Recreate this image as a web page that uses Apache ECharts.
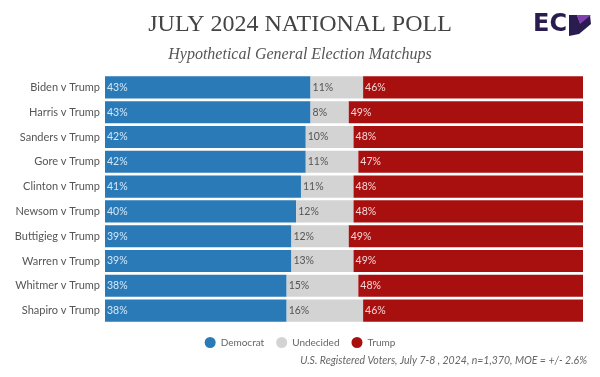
<!DOCTYPE html>
<html>
<head>
<meta charset="utf-8">
<script src="https://cdn.jsdelivr.net/npm/echarts@6/dist/echarts.min.js"></script>
<style>
  html, body { margin: 0; padding: 0; background: #fff; }
  #main { width: 600px; height: 377px; }
</style>
</head>
<body>
<div id="main"></div>
<script>
// matchups, top to bottom
var matchups = ['Biden v Trump', 'Harris v Trump', 'Sanders v Trump', 'Gore v Trump', 'Clinton v Trump',
    'Newsom v Trump', 'Buttigieg v Trump', 'Warren v Trump', 'Whitmer v Trump', 'Shapiro v Trump'];
var democrat = [43, 43, 42, 42, 41, 40, 39, 39, 38, 38];
var undecided = [11, 8, 10, 11, 11, 12, 12, 13, 15, 16];
var trump = [46, 49, 48, 47, 48, 48, 49, 49, 48, 46];

var chart = echarts.init(document.getElementById('main'));

function pct(p) { return p.value + '%'; }

option = {
    backgroundColor: '#fff',
    animation: false,
    title: [
        {
            text: 'JULY 2024 NATIONAL POLL',
            left: 'center',
            top: 8,
            textStyle: { fontFamily: 'Liberation Serif', fontWeight: 'normal', fontSize: 24, color: '#444' }
        },
        {
            text: 'Hypothetical General Election Matchups',
            left: 'center',
            top: 42,
            textStyle: { fontFamily: 'Liberation Serif', fontStyle: 'italic', fontWeight: 'normal', fontSize: 16, color: '#555' }
        },
        {
            text: 'U.S. Registered Voters, July 7-8 , 2024, n=1,370, MOE = +/- 2.6%',
            right: 8,
            top: 350,
            textStyle: { fontFamily: 'Lato', fontStyle: 'italic', fontWeight: 'normal', fontSize: 10.5, color: '#666' }
        }
    ],
    graphic: [
        {
            type: 'text',
            left: 533,
            top: 13,
            style: { text: 'EC', font: 'bold 24px "DejaVu Sans"', fill: '#2b1c4f' }
        },
        {
            // P stem and bowl
            type: 'polygon',
            shape: { points: [[569, 15], [577, 15], [580, 23], [590, 15], [591, 24], [579, 34], [569, 36]] },
            style: { fill: '#2b1c4f' }
        },
        {
            type: 'polygon',
            shape: { points: [[577, 15], [591, 15], [580, 24]] },
            style: { fill: '#8040b0' }
        }
    ],
    legend: {
        data: ['Democrat', 'Undecided', 'Trump'],
        top: 332,
        left: 'center',
        icon: 'circle',
        itemWidth: 11,
        itemHeight: 11,
        itemGap: 12,
        textStyle: { fontFamily: 'Lato', fontSize: 10, color: '#666' }
    },
    grid: {
        left: 105,
        right: 17,
        top: 75,
        bottom: 54
    },
    xAxis: {
        type: 'value',
        min: 0,
        max: 100,
        show: false
    },
    yAxis: {
        type: 'category',
        inverse: true,
        data: matchups,
        axisLine: { show: false },
        axisTick: { show: false },
        axisLabel: { fontFamily: 'Lato', fontSize: 11, color: '#555', margin: 5 }
    },
    series: [
        {
            name: 'Democrat',
            type: 'bar',
            stack: 'all',
            barCategoryGap: '11%',
            data: democrat,
            itemStyle: { color: '#2a7ab8' },
            label: { show: true, position: 'insideLeft', offset: [-3, 0], formatter: pct,
                fontFamily: 'Lato', fontSize: 10.5, color: '#d6e8f7' }
        },
        {
            name: 'Undecided',
            type: 'bar',
            stack: 'all',
            data: undecided,
            itemStyle: { color: '#d3d3d3' },
            label: { show: true, position: 'insideLeft', offset: [-3, 0], formatter: pct,
                fontFamily: 'Lato', fontSize: 10.5, color: '#555' }
        },
        {
            name: 'Trump',
            type: 'bar',
            stack: 'all',
            data: trump,
            itemStyle: { color: '#a81010' },
            label: { show: true, position: 'insideLeft', offset: [-3, 0], formatter: pct,
                fontFamily: 'Lato', fontSize: 10.5, color: '#f4d6d6' }
        }
    ]
};

chart.setOption(option);
</script>
</body>
</html>
